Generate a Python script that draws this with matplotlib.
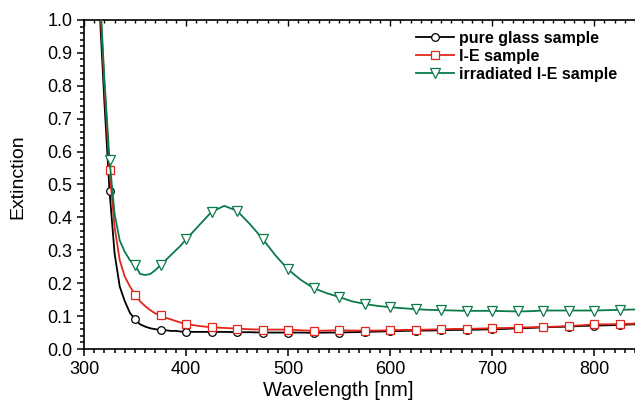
import matplotlib
matplotlib.use('Agg')
import matplotlib.pyplot as plt
from matplotlib.ticker import MultipleLocator
import numpy as np

plt.rcParams['font.family'] = ['Liberation Sans', 'DejaVu Sans']

# wavelength grid [nm]
wl = [310, 315, 320, 325, 330, 335, 340, 345, 350, 355, 360, 365, 370, 375, 380,
      385, 390, 395, 400, 412.5, 425, 437.5, 450, 462.5, 475, 487.5, 500, 512.5,
      525, 537.5, 550, 562.5, 575, 587.5, 600, 612.5, 625, 637.5, 650, 662.5,
      675, 687.5, 700, 712.5, 725, 737.5, 750, 762.5, 775, 787.5, 800, 812.5,
      825, 837.5, 840]

pure_glass = [1.50, 1.05, 0.75, 0.48, 0.29, 0.19, 0.145, 0.11, 0.09, 0.075, 0.068,
              0.063, 0.060, 0.058, 0.057, 0.055, 0.055, 0.053, 0.052, 0.052, 0.052,
              0.052, 0.051, 0.051, 0.050, 0.050, 0.050, 0.050, 0.049, 0.050, 0.050,
              0.051, 0.052, 0.053, 0.054, 0.055, 0.056, 0.056, 0.057, 0.058, 0.058,
              0.059, 0.060, 0.061, 0.063, 0.064, 0.066, 0.067, 0.068, 0.070, 0.071,
              0.072, 0.073, 0.075, 0.075]

ie_sample = [1.55, 1.10, 0.80, 0.545, 0.37, 0.27, 0.22, 0.19, 0.165, 0.145, 0.13,
             0.118, 0.108, 0.102, 0.095, 0.09, 0.085, 0.08, 0.076, 0.07, 0.066,
             0.064, 0.062, 0.060, 0.059, 0.059, 0.059, 0.057, 0.055, 0.056, 0.057,
             0.056, 0.056, 0.056, 0.057, 0.058, 0.058, 0.059, 0.060, 0.061, 0.061,
             0.062, 0.063, 0.064, 0.065, 0.066, 0.067, 0.068, 0.070, 0.072, 0.075,
             0.075, 0.076, 0.077, 0.078]

irradiated = [1.6, 1.12, 0.82, 0.575, 0.41, 0.33, 0.295, 0.27, 0.255, 0.228, 0.225,
              0.228, 0.24, 0.255, 0.27, 0.285, 0.30, 0.315, 0.333, 0.375, 0.417,
              0.435, 0.42, 0.38, 0.335, 0.285, 0.242, 0.21, 0.185, 0.17, 0.158,
              0.145, 0.137, 0.131, 0.127, 0.124, 0.121, 0.119, 0.118, 0.117, 0.116,
              0.116, 0.116, 0.115, 0.114, 0.115, 0.117, 0.117, 0.117, 0.117, 0.117,
              0.118, 0.119, 0.12, 0.12]

labels = ['pure glass sample', 'I-E sample', 'irradiated I-E sample']
colors = ['black', '#e3261b', '#0b7a4b']
markers = ['o', 's', 'v']
msizes = [5.5, 5.5, 6.5]

# markers every 25 nm starting at 325 nm
mark_idx = [i for i, w in enumerate(wl) if w >= 325 and w % 25 == 0]

fig = plt.figure(figsize=(6.35, 4.04), dpi=100)
ax = fig.add_axes([84/635, 55/404, 551/635, 329/404])

for ys, lab, c, mk, ms in zip([pure_glass, ie_sample, irradiated], labels, colors, markers, msizes):
    ax.plot(wl, ys, color=c, lw=1.3, marker=mk, ms=ms, mfc='white', mec=c, mew=0.9,
            markevery=mark_idx, label=lab)

ax.set_xlim(300, 840)
ax.set_ylim(0, 1.0)
ax.xaxis.set_major_locator(MultipleLocator(100))
ax.xaxis.set_minor_locator(MultipleLocator(10))
ax.yaxis.set_major_locator(MultipleLocator(0.1))
ax.yaxis.set_minor_locator(MultipleLocator(0.02))
ax.tick_params(which='both', direction='out', labelsize=13, width=1.1)
ax.tick_params(which='major', length=5)
ax.tick_params(which='minor', length=3)

# top axis: small inward ticks, no labels
top = ax.secondary_xaxis('top')
top.xaxis.set_major_locator(MultipleLocator(100))
top.xaxis.set_minor_locator(MultipleLocator(10))
top.tick_params(which='both', direction='in', labeltop=False, width=1.0)
top.tick_params(which='major', length=4)
top.tick_params(which='minor', length=2.5)
top.spines['top'].set_linewidth(1.2)

ax.spines['right'].set_visible(False)
ax.spines['top'].set_visible(False)
for s in ['left', 'bottom']:
    ax.spines[s].set_linewidth(1.2)

ax.set_xlabel('Wavelength [nm]', fontsize=14.5, labelpad=2, x=0.461)
ax.set_ylabel('Extinction', fontsize=14, labelpad=15, y=0.524)

ax.legend(loc='upper left', bbox_to_anchor=(416/635, 1 - 31/404), bbox_transform=fig.transFigure,
          frameon=False, prop={'weight': 'bold', 'size': 11.5}, handlelength=2.4,
          handletextpad=0.3, labelspacing=0.18, borderpad=0, borderaxespad=0)

fig.savefig('out.png', dpi=100)
